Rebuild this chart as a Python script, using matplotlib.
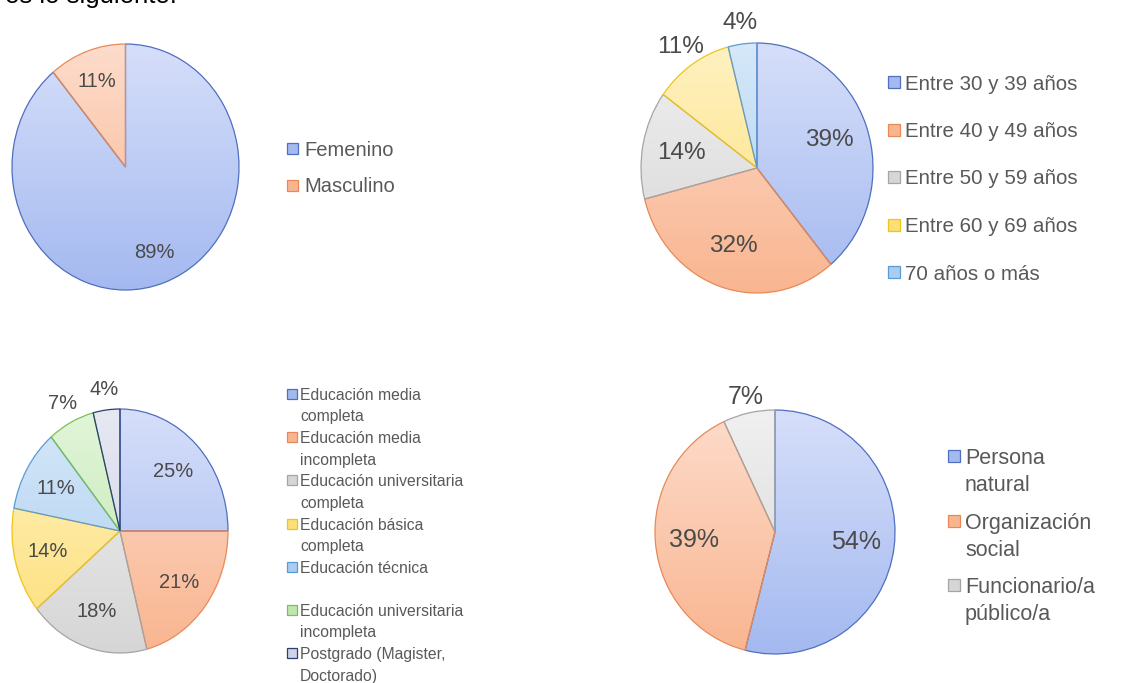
import numpy as np
import matplotlib
matplotlib.use('Agg')
import matplotlib.pyplot as plt
import matplotlib.colors as mcolors
from matplotlib.patches import Rectangle

plt.rcParams['font.family'] = ['Liberation Sans', 'DejaVu Sans']

# ---- datos ----
sexo_labels = ['Femenino', 'Masculino']
sexo_vals = [89, 11]

edad_labels = ['Entre 30 y 39 años', 'Entre 40 y 49 años', 'Entre 50 y 59 años',
               'Entre 60 y 69 años', '70 años o más']
edad_vals = [39, 32, 14, 11, 4]

educ_labels = ['Educación media\ncompleta', 'Educación media\nincompleta',
               'Educación universitaria\ncompleta', 'Educación básica\ncompleta',
               'Educación técnica', 'Educación universitaria\nincompleta',
               'Postgrado (Magister,\nDoctorado)']
educ_vals = [25, 21, 18, 14, 11, 7, 4]

tipo_labels = ['Persona\nnatural', 'Organización\nsocial', 'Funcionario/a\npúblico/a']
tipo_vals = [54, 39, 7]

# colores estilo Excel: (arriba, abajo, borde)
paleta = [
    ('#d6dffa', '#a4b9f0', '#4f6fbf'),  # azul
    ('#fddccb', '#f9b590', '#e88a57'),  # naranjo
    ('#f0f0f0', '#d6d6d6', '#a5a5a5'),  # gris
    ('#fff2c2', '#fddf78', '#f0c419'),  # amarillo
    ('#d6e8f9', '#a9cdf0', '#5b9bd5'),  # celeste
    ('#e2f5d9', '#bfe6ad', '#7cbf57'),  # verde
    ('#e6e8f2', '#cfd3e6', '#2b3f73'),  # azul oscuro
]

W, H = 1134, 683
fig = plt.figure(figsize=(W / 100, H / 100), dpi=100)


def eje_pixeles(cx, cy, rx, ry):
    return fig.add_axes([(cx - rx) / W, (H - cy - ry) / H, 2 * rx / W, 2 * ry / H])


def torta(cx, cy, rx, ry, valores, fs, dist_in, dist_out=1.17, umbral=8):
    ax = eje_pixeles(cx, cy, rx, ry)
    cols = paleta[:len(valores)]
    wedges, _ = ax.pie(valores, startangle=90, counterclock=False, radius=1,
                       colors=[c[1] for c in cols],
                       wedgeprops=dict(linewidth=0.9))
    t = np.linspace(0, 1, 256)[:, None, None]
    for w, v, (arriba, abajo, borde) in zip(wedges, valores, cols):
        w.set_edgecolor(borde)
        w.set_facecolor('none')
        w.set_zorder(1)
        # degradado vertical recortado a la porcion
        c1 = np.array(mcolors.to_rgb(arriba))
        c2 = np.array(mcolors.to_rgb(abajo))
        img = c1 * (1 - t) + c2 * t
        im = ax.imshow(img, extent=(-1, 1, -1, 1), aspect='auto', origin='upper', zorder=0.5)
        im.set_clip_path(w)
        ang = np.deg2rad((w.theta1 + w.theta2) / 2)
        d = dist_in if v >= umbral else dist_out
        ax.text(d * np.cos(ang), d * np.sin(ang), f'{v}%', ha='center', va='center',
                fontsize=fs, color='#4a4a4a', zorder=3)
    ax.set_aspect('auto')
    ax.set_xlim(-1, 1)
    ax.set_ylim(-1, 1)
    ax.axis('off')
    return ax


torta(125.5, 167, 113.5, 123, sexo_vals, 14.5, 0.74)
torta(757, 168, 116, 125, edad_vals, 17.5, 0.66, dist_out=1.17, umbral=12)
torta(120, 531, 108, 122, educ_vals, 14.5, 0.69, dist_out=1.17)
torta(775, 532, 120, 122, tipo_vals, 18, 0.68, dist_out=1.13)

# capa en pixeles para leyendas y texto
capa = fig.add_axes([0, 0, 1, 1])
capa.set_xlim(0, W)
capa.set_ylim(H, 0)
capa.axis('off')


def leyenda(x_sq, x_txt, y0, paso, linea, etiquetas, fs, sq):
    for i, lab in enumerate(etiquetas):
        y = y0 + i * paso
        arriba, abajo, borde = paleta[i]
        capa.add_patch(Rectangle((x_sq, y - sq / 2), sq, sq, facecolor=abajo,
                                 edgecolor=borde, linewidth=0.9))
        for j, parte in enumerate(lab.split('\n')):
            capa.text(x_txt, y + j * linea, parte, fontsize=fs, color='#595959',
                      ha='left', va='center_baseline')


leyenda(287, 304, 148, 37, 0, sexo_labels, 14.5, 11)
leyenda(888, 905, 82, 47.5, 0, edad_labels, 14.8, 12)
leyenda(287, 300, 394, 43.2, 21.3, educ_labels, 11.3, 10)
leyenda(948, 965, 456, 64.5, 27, tipo_labels, 15.5, 12)

# texto del documento, cortado en el borde superior
capa.text(5, 3.5, 'es lo siguiente:', fontsize=18.5, color='black', ha='left', va='baseline')

fig.savefig('out.png', dpi=100)
